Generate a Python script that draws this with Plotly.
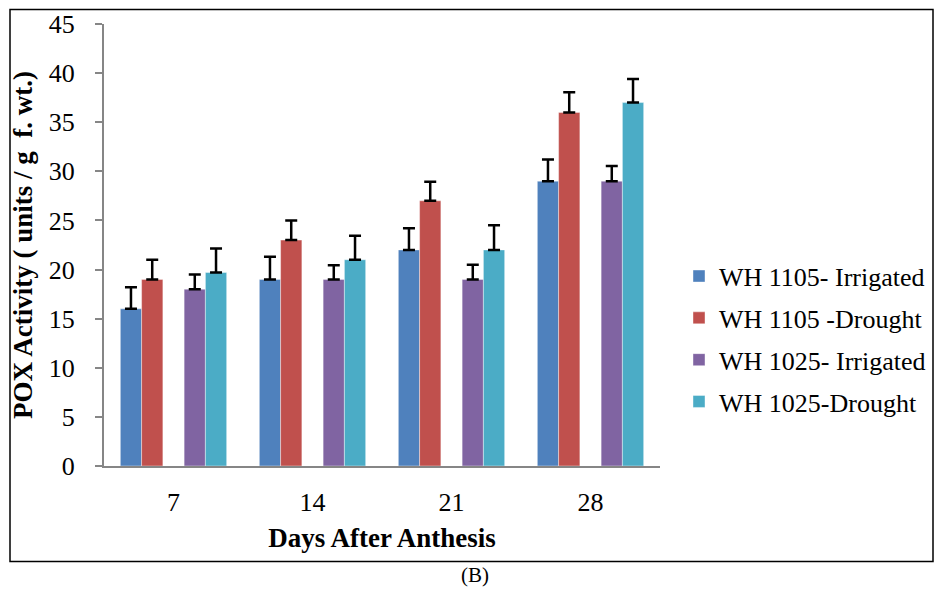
import plotly.graph_objects as go

days = ["7", "14", "21", "28"]
series_names = ["WH 1105- Irrigated", "WH 1105 -Drought", "WH 1025- Irrigated", "WH 1025-Drought"]
wh1105_irrigated = [16, 19, 22, 29]
wh1105_drought = [19, 23, 27, 36]
wh1025_irrigated = [18, 19, 19, 29]
wh1025_drought = [19.7, 21, 22, 37]
err_1105_irrigated = [2.2, 2.3, 2.2, 2.2]
err_1105_drought = [2.0, 2.0, 1.95, 2.05]
err_1025_irrigated = [1.5, 1.45, 1.5, 1.55]
err_1025_drought = [2.45, 2.45, 2.5, 2.4]
colors = ["#4F81BD", "#C0504D", "#8064A2", "#4BACC6"]

values = [wh1105_irrigated, wh1105_drought, wh1025_irrigated, wh1025_drought]
errors = [err_1105_irrigated, err_1105_drought, err_1025_irrigated, err_1025_drought]

W = 0.153
offsets = [-2.5 * W, -1.5 * W, 0.5 * W, 1.5 * W]

fig = go.Figure()
for i in range(4):
    fig.add_trace(go.Bar(
        x=days, y=values[i], name=series_names[i],
        width=W, offset=offsets[i],
        marker=dict(color=colors[i], line=dict(color="rgba(255,255,255,0.5)", width=0.8)),
        error_y=dict(type="data", array=errors[i], arrayminus=[0] * 4, symmetric=False,
                     color="black", thickness=2.5, width=6),
        legendgroup=str(i),
    ))

serif = "Liberation Serif, Times New Roman, serif"
fig.update_layout(
    width=935, height=589,
    margin=dict(l=104, r=275, t=24, b=123, autoexpand=False),
    paper_bgcolor="white", plot_bgcolor="white",
    barmode="overlay",
    font=dict(family=serif, color="black", size=26),
    showlegend=True,
    legend=dict(x=(679 - 104) / 556, y=0.287, xanchor="left", yanchor="middle",
                font=dict(family=serif, size=26, color="black"),
                tracegroupgap=5, itemwidth=30, bgcolor="rgba(0,0,0,0)"),
    xaxis=dict(type="category", range=[-0.5, 3.5], showline=True, linecolor="#868686",
               linewidth=2, ticks="", showgrid=False, ticklabelstandoff=12,
               tickfont=dict(family=serif, size=26, color="black"),
               title=dict(text="<b>Days After Anthesis</b>", standoff=12,
                          font=dict(family=serif, size=27, color="black"))),
    yaxis=dict(range=[0, 45], dtick=5, showline=True, linecolor="#868686", linewidth=2,
               ticks="outside", ticklen=7, tickwidth=2, tickcolor="#868686",
               showgrid=False, zeroline=False, ticklabelstandoff=15,
               tickfont=dict(family=serif, size=26, color="black"),
               title=dict(text="<b>POX Activity ( units / g  f. wt.)</b>", standoff=8,
                          font=dict(family=serif, size=27, color="black"))),
    shapes=[dict(type="rect", xref="paper", yref="paper",
                 x0=(10 - 104) / 556, x1=(933 - 104) / 556,
                 y0=(466 - 561.5) / 442, y1=(466 - 9.5) / 442,
                 line=dict(color="black", width=1.5), fillcolor="rgba(0,0,0,0)", layer="below")],
    annotations=[dict(text="(B)", xref="paper", yref="paper", x=(475 - 104) / 556,
                      y=(466 - 575) / 442, showarrow=False, xanchor="center", yanchor="middle",
                      font=dict(family=serif, size=21, color="black"))],
)

fig.write_html("out.html")
